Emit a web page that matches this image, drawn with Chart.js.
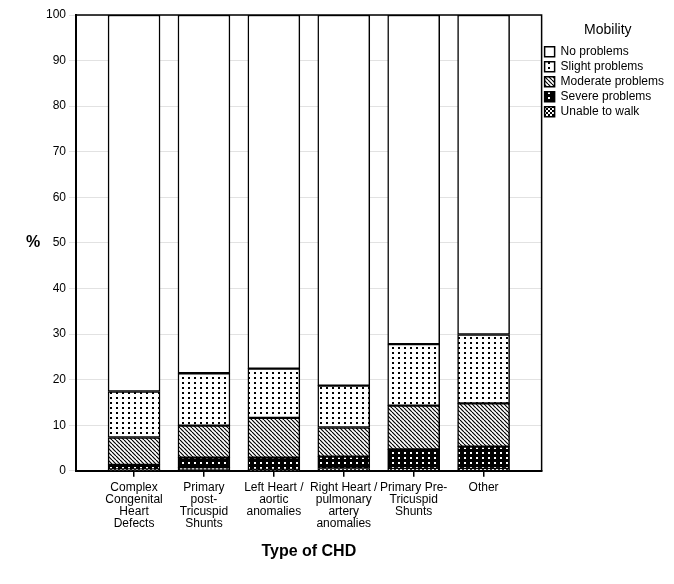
<!DOCTYPE html>
<html>
<head>
<meta charset="utf-8">
<script src="https://cdn.jsdelivr.net/npm/chart.js@4.4.0/dist/chart.umd.min.js"></script>
<style>
  html, body { margin: 0; padding: 0; background: #fff; }
  #wrap { width: 674px; height: 584px; }
</style>
</head>
<body>
<div id="wrap"><canvas id="chart"></canvas></div>
<script>
// categories (multi-line labels) and % per mobility level
const categories = [
  ['Complex', 'Congenital', 'Heart', 'Defects'],
  ['Primary', 'post-', 'Tricuspid', 'Shunts'],
  ['Left Heart /', 'aortic', 'anomalies'],
  ['Right Heart /', 'pulmonary', 'artery', 'anomalies'],
  ['Primary Pre-', 'Tricuspid', 'Shunts'],
  ['Other']
];
const noProblems       = [82.6, 78.6, 77.6, 81.3, 72.2, 70.1];
const slightProblems   = [10.1, 11.5, 10.8,  9.2, 13.5, 15.1];
const moderateProblems = [ 6.0,  7.0,  8.7,  6.4,  9.6,  9.5];
const severeProblems   = [ 1.0,  2.2,  2.7,  2.6,  4.3,  4.9];
const unableToWalk     = [ 0.3,  0.7,  0.2,  0.5,  0.4,  0.4];

const FONT = 'Liberation Sans, Arial, sans-serif';

// little tile patterns, like the old SPSS fills
function makeTile(w, h, draw) {
  const c = document.createElement('canvas');
  c.width = w; c.height = h;
  const g = c.getContext('2d');
  draw(g, w, h);
  return document.getElementById('chart').getContext('2d').createPattern(c, 'repeat');
}
const plain = '#fff';
const dots = makeTile(6, 5, (g, w, h) => {
  g.fillStyle = '#fff'; g.fillRect(0, 0, w, h);
  g.fillStyle = '#000'; g.fillRect(2, 2, 2, 2);
});
const hatch = makeTile(4, 4, (g, w, h) => {
  g.fillStyle = '#fff'; g.fillRect(0, 0, w, h);
  g.strokeStyle = '#000'; g.lineWidth = 1.2;
  for (const k of [-w, 0, w]) {
    g.beginPath(); g.moveTo(k, 0); g.lineTo(k + w, h); g.stroke();
  }
});
const darkDots = makeTile(6, 5, (g, w, h) => {
  g.fillStyle = '#000'; g.fillRect(0, 0, w, h);
  g.fillStyle = '#fff'; g.fillRect(2, 2, 2, 2);
});
const checker = makeTile(4, 4, (g, w, h) => {
  g.fillStyle = '#000'; g.fillRect(0, 0, w, h);
  g.fillStyle = '#fff'; g.fillRect(0, 0, 2, 2); g.fillRect(2, 2, 2, 2);
});

function series(label, values, fill) {
  return {
    label: label,
    data: values.map((v, i) => ({ x: i, y: v })),
    backgroundColor: fill,
    borderColor: '#000',
    borderWidth: 1.5,
    borderSkipped: false,
    barThickness: 52
  };
}

// frame on top/right and the unrotated "%" title
const framePlugin = {
  id: 'frame',
  afterDraw(chart) {
    const { ctx, chartArea: a } = chart;
    ctx.save();
    ctx.strokeStyle = '#000';
    ctx.lineWidth = 1.5;
    ctx.beginPath();
    ctx.moveTo(a.left, a.top); ctx.lineTo(a.right, a.top); ctx.lineTo(a.right, a.bottom);
    ctx.stroke();
    ctx.fillStyle = '#000';
    ctx.font = 'bold 16px ' + FONT;
    ctx.textAlign = 'center';
    ctx.textBaseline = 'middle';
    ctx.fillText('%', 33, (a.top + a.bottom) / 2);
    ctx.restore();
  }
};

new Chart(document.getElementById('chart'), {
  type: 'bar',
  data: {
    datasets: [
      series('Unable to walk', unableToWalk, checker),
      series('Severe problems', severeProblems, darkDots),
      series('Moderate problems', moderateProblems, hatch),
      series('Slight problems', slightProblems, dots),
      series('No problems', noProblems, plain)
    ]
  },
  options: {
    responsive: true,
    maintainAspectRatio: false,
    animation: false,
    layout: { padding: { left: 43, top: 15, right: 0, bottom: 19 } },
    scales: {
      x: {
        type: 'linear',
        min: -0.83,
        max: 5.83,
        offset: false,
        stacked: true,
        afterBuildTicks: axis => { axis.ticks = categories.map((c, i) => ({ value: i })); },
        ticks: {
          callback: v => categories[v],
          font: { family: FONT, size: 12, lineHeight: 1.0 },
          color: '#000',
          maxRotation: 0,
          autoSkip: false,
          padding: 5
        },
        grid: { offset: false, drawOnChartArea: false, color: '#000', tickLength: 6, lineWidth: 1.5 },
        border: { color: '#000', width: 2 },
        title: {
          display: true,
          text: 'Type of CHD',
          color: '#000',
          font: { family: FONT, size: 16, weight: 'bold' },
          padding: { top: 7 }
        }
      },
      y: {
        min: 0,
        max: 100,
        stacked: true,
        ticks: {
          stepSize: 10,
          font: { family: FONT, size: 12 },
          color: '#000',
          padding: 3
        },
        grid: { color: '#e2e2e2', tickLength: 7, lineWidth: 1 },
        border: { color: '#000', width: 2 }
      }
    },
    plugins: {
      tooltip: { enabled: false },
      legend: {
        position: 'right',
        align: 'start',
        reverse: true,
        title: {
          display: true,
          text: 'Mobility',
          color: '#000',
          font: { family: FONT, size: 14 },
          padding: { top: 8, bottom: 3 }
        },
        labels: {
          boxWidth: 10,
          boxHeight: 10,
          color: '#000',
          font: { family: FONT, size: 12 },
          padding: 3
        }
      }
    }
  },
  plugins: [framePlugin]
});
</script>
</body>
</html>
